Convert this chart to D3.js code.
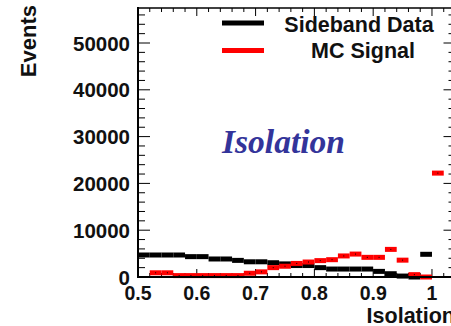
<!DOCTYPE html>
<meta charset="utf-8">
<style>
  body { margin: 0; background: #fff; }
  svg { display: block; }
  .lab { font-family: "Liberation Sans", Arial, sans-serif; font-weight: bold; fill: #111; }
</style>
<body>
<svg width="451" height="326"></svg>
<script src="https://d3js.org/d3.v7.min.js"></script>
<script>
// bin centres (width 0.02)
var binCenters = [0.51, 0.53, 0.55, 0.57, 0.59, 0.61, 0.63, 0.65, 0.67, 0.69,
                  0.71, 0.73, 0.75, 0.77, 0.79, 0.81, 0.83, 0.85, 0.87, 0.89,
                  0.91, 0.93, 0.95, 0.97, 0.99, 1.01, 1.03];
var sideband = [4700, 4700, 4700, 4700, 4350, 4350, 3850, 3850, 3550, 3250,
                3250, 3050, 2800, 2450, 2450, 2000, 1700, 1700, 1700, 1700,
                1200, 700, 200, 0, 4850, null, null];
var mcSignal = [null, 900, 900, 300, 300, 300, 300, 300, 300, 800,
                1100, 2000, 2300, 2900, 3200, 3500, 3700, 4500, 4900, 4200,
                4200, 5900, 3600, 500, 0, 22200, null];
var yTicks = [0, 10000, 20000, 30000, 40000, 50000];
var xTicks = [0.5, 0.6, 0.7, 0.8, 0.9, 1.0];
var binWidth = 0.02;

var svg = d3.select("svg");

var x = d3.scaleLinear().domain([0.5, 1.04]).range([138, 455.5]);
var y = d3.scaleLinear().domain([0, 57480]).range([277, 8]);

// frame
svg.append("line").attr("x1", 138).attr("x2", 455.5).attr("y1", 8).attr("y2", 8)
  .attr("stroke", "#000").attr("stroke-width", 1.5);
svg.append("line").attr("x1", 455.5).attr("x2", 455.5).attr("y1", 8).attr("y2", 277)
  .attr("stroke", "#000").attr("stroke-width", 1.5);

// minor ticks
var xMinor = d3.range(0.5, 1.041, 0.02);
var yMinor = d3.range(0, 57480, 2000);

var g = svg.append("g");
xMinor.forEach(function(v) {
  var major = Math.abs(v * 10 - Math.round(v * 10)) < 1e-6;
  var len = major ? 8 : 4;
  g.append("line").attr("x1", x(v)).attr("x2", x(v)).attr("y1", 277).attr("y2", 277 - len)
    .attr("stroke", "#000").attr("stroke-width", 1);
  g.append("line").attr("x1", x(v)).attr("x2", x(v)).attr("y1", 8).attr("y2", 8 + len)
    .attr("stroke", "#000").attr("stroke-width", 1);
});
yMinor.forEach(function(v) {
  var major = v % 10000 === 0;
  var len = major ? 12 : 7;
  g.append("line").attr("x1", 138).attr("x2", 138 + len).attr("y1", y(v)).attr("y2", y(v))
    .attr("stroke", "#000").attr("stroke-width", 1);
  g.append("line").attr("x1", 455.5).attr("x2", 455.5 - len).attr("y1", y(v)).attr("y2", y(v))
    .attr("stroke", "#000").attr("stroke-width", 1);
});

// histograms
function drawHist(vals, color, h) {
  svg.append("g").selectAll("rect")
    .data(binCenters.map(function(c, i) { return {c: c, v: vals[i]}; })
      .filter(function(d) { return d.v !== null; }))
    .enter().append("rect")
    .attr("x", function(d) { return x(d.c - binWidth / 2); })
    .attr("width", function(d) { return x(d.c + binWidth / 2) - x(d.c - binWidth / 2); })
    .attr("y", function(d) { return y(d.v) - h / 2; })
    .attr("height", h)
    .attr("fill", color);
}
drawHist(sideband, "#000", 5);
drawHist(mcSignal, "#f00", 5);

// markers on the signal
svg.append("g").selectAll("rect")
  .data(binCenters.map(function(c, i) { return {c: c, v: mcSignal[i]}; })
    .filter(function(d) { return d.v !== null; }))
  .enter().append("rect")
  .attr("x", function(d) { return x(d.c) - 0.5; })
  .attr("y", function(d) { return y(d.v) - 0.5; })
  .attr("width", 1).attr("height", 1).attr("fill", "#000");

// axes lines on top
svg.append("line").attr("x1", 138).attr("x2", 138).attr("y1", 7).attr("y2", 278)
  .attr("stroke", "#000").attr("stroke-width", 2);
svg.append("line").attr("x1", 137).attr("x2", 455.5).attr("y1", 277).attr("y2", 277)
  .attr("stroke", "#000").attr("stroke-width", 2);

// tick labels
svg.append("g").selectAll("text").data(yTicks).enter().append("text")
  .attr("class", "lab").attr("x", 130).attr("y", function(d) { return y(d) + 7.5; })
  .attr("text-anchor", "end").style("font-size", "20.5px")
  .text(function(d) { return d; });

svg.append("g").selectAll("text").data(xTicks).enter().append("text")
  .attr("class", "lab").attr("x", function(d) { return x(d); }).attr("y", 299.5)
  .attr("text-anchor", "middle").style("font-size", "19.5px")
  .text(function(d) { return d === 1 ? "1" : d.toFixed(1); });

// axis titles
svg.append("text").attr("class", "lab")
  .attr("transform", "translate(35.5,5) rotate(-90)")
  .attr("text-anchor", "end").style("font-size", "22px").text("Events");
svg.append("text").attr("class", "lab")
  .attr("x", 455).attr("y", 323).attr("text-anchor", "end")
  .style("font-size", "21.5px").text("Isolation");

// legend
svg.append("line").attr("x1", 222).attr("x2", 264).attr("y1", 23).attr("y2", 23)
  .attr("stroke", "#000").attr("stroke-width", 5);
svg.append("line").attr("x1", 222).attr("x2", 264).attr("y1", 50.5).attr("y2", 50.5)
  .attr("stroke", "#f00").attr("stroke-width", 5);
svg.append("text").attr("class", "lab").attr("x", 359).attr("y", 32)
  .attr("text-anchor", "middle").style("font-size", "21.5px").text("Sideband Data");
svg.append("text").attr("class", "lab").attr("x", 363).attr("y", 58)
  .attr("text-anchor", "middle").style("font-size", "21.5px").text("MC Signal");

// label
svg.append("text").attr("x", 222).attr("y", 153)
  .style("font-family", "'Liberation Serif', 'Times New Roman', serif")
  .style("font-weight", "bold").style("font-style", "italic")
  .style("font-size", "33.5px").attr("fill", "#33349a").text("Isolation");
</script>
</body>
